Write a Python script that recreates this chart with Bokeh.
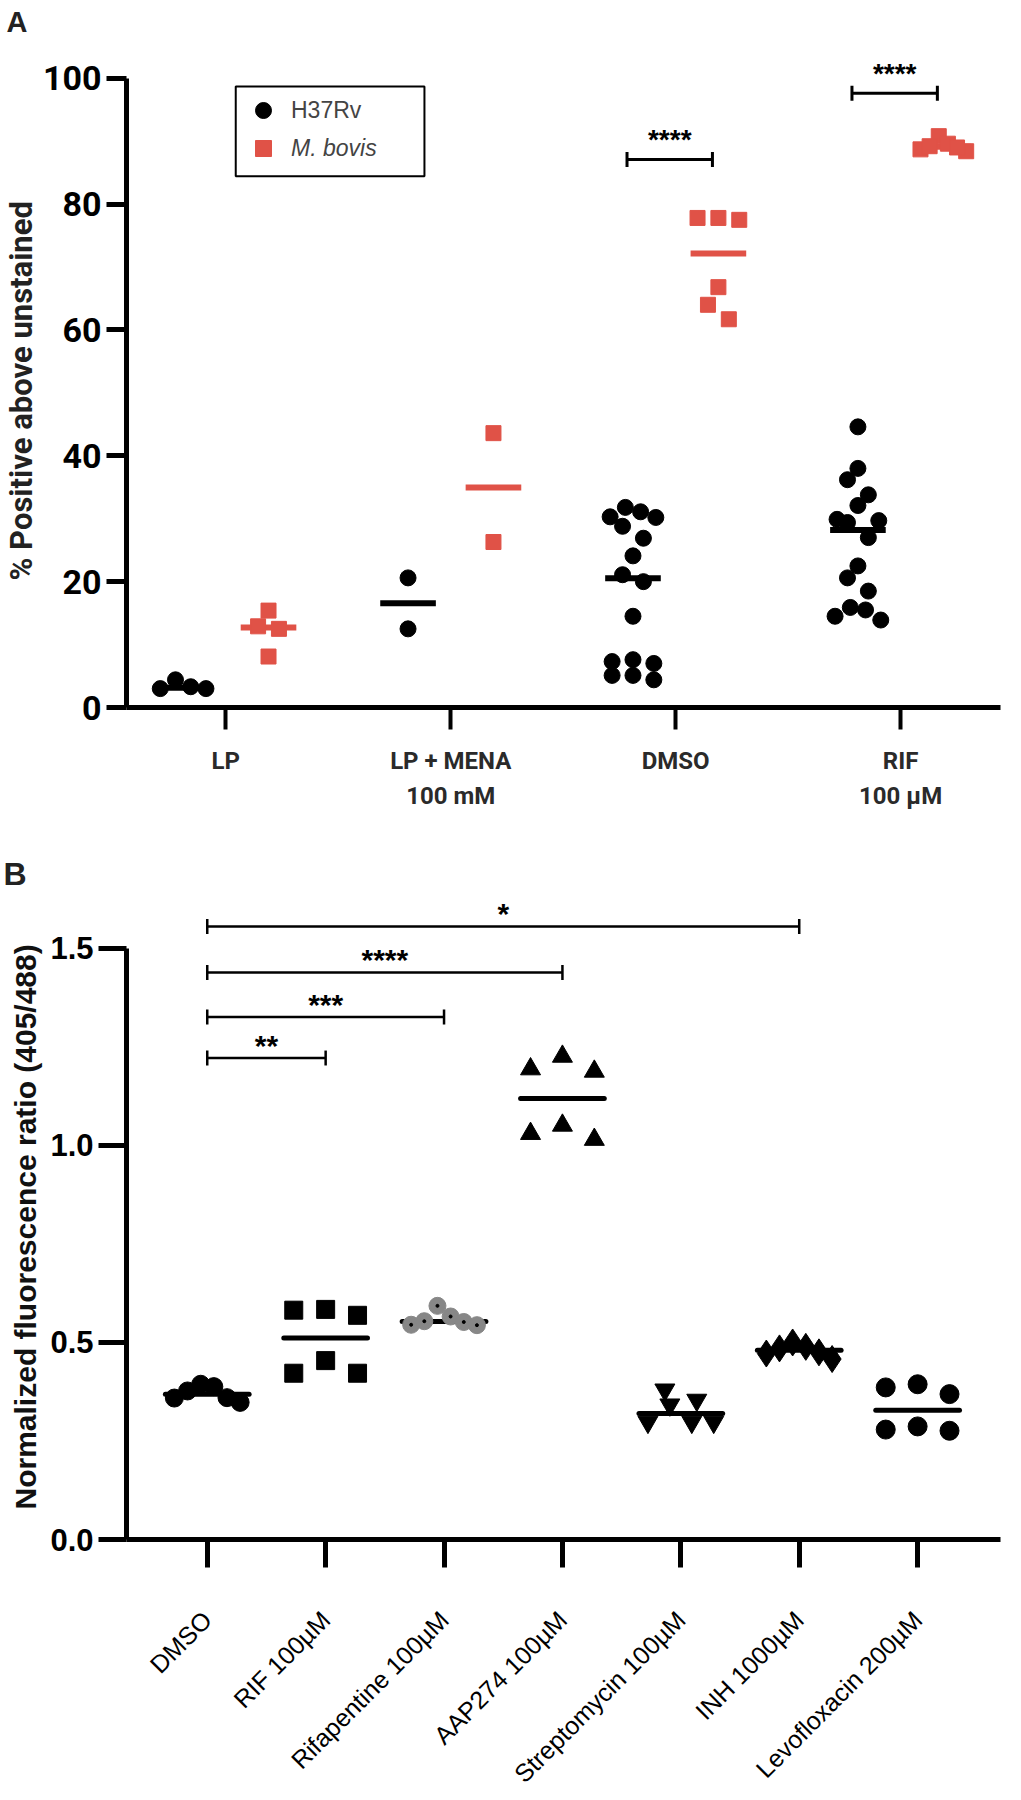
import numpy as np
from bokeh.plotting import figure
from bokeh.models import (FixedTicker, Legend, LegendItem, BoxAnnotation,
                          Range1d, ColumnDataSource, Title)
from bokeh.layouts import column
from bokeh.core.properties import value
from bokeh.embed import file_html
from bokeh.resources import INLINE

# ---------------- Panel A data ----------------
A_CATEGORIES = ["LP", "LP + MENA\n100 mM", "DMSO", "RIF\n100 µM"]
A_SERIES = ["H37Rv", "M. bovis"]
A_Y_LABEL = "% Positive above unstained"
H37RV_LP = [3.0, 4.4, 3.0, 3.3]
H37RV_LP_MENA = [20.6, 12.5]
H37RV_DMSO = [30.2, 31.1, 31.8, 30.3, 28.8, 26.9, 24.1, 20.0, 21.1, 14.5,
              7.3, 5.1, 5.1, 7.0, 7.6, 4.4]
H37RV_RIF = [44.6, 38.0, 36.2, 33.8, 32.1, 29.9, 29.7, 29.4, 27.0, 22.5,
             20.6, 18.5, 15.9, 15.5, 14.5, 13.9]
BOVIS_LP = [15.4, 12.5, 12.9, 8.1]
BOVIS_LP_MENA = [43.6, 26.3]
BOVIS_DMSO = [77.5, 77.8, 77.8, 66.8, 64.0, 61.7]
BOVIS_RIF = [88.7, 90.8, 89.6, 88.4, 89.2, 89.0]
A_SIG_CATEGORY = [2, 3]
A_SIG_TEXT = ["****", "****"]
A_SIG_Y = [87.1, 97.6]
A_Y_TICKS = [0, 20, 40, 60, 80, 100]

# ---------------- Panel B data ----------------
B_CATEGORIES = ["DMSO", "RIF 100µM", "Rifapentine 100µM", "AAP274 100µM",
                "Streptomycin 100µM", "INH 1000µM", "Levofloxacin 200µM"]
B_Y_LABEL = "Normalized fluorescence  ratio (405/488)"
B_DMSO = [0.360, 0.388, 0.359, 0.377, 0.394, 0.348]
B_RIF = [0.582, 0.569, 0.584, 0.422, 0.454, 0.422]
B_RIFAPENTINE = [0.545, 0.566, 0.593, 0.552, 0.554, 0.544]
B_AAP274 = [1.226, 1.188, 1.194, 1.015, 1.051, 1.030]
B_STREPTOMYCIN = [0.354, 0.342, 0.380, 0.298, 0.298, 0.298]
B_INH = [0.472, 0.500, 0.475, 0.489, 0.458, 0.485]
B_LEVOFLOXACIN = [0.394, 0.369, 0.386, 0.276, 0.287, 0.279]
B_SIG_FROM = [0, 0, 0, 0]
B_SIG_TO = [1, 2, 3, 5]
B_SIG_TEXT = ["**", "***", "****", "*"]
B_SIG_Y = [1.222, 1.326, 1.439, 1.556]
B_Y_TICKS = [0.0, 0.5, 1.0, 1.5]

# ---------------- styles ----------------
RED = "#E05247"
GRAY = "#878787"
COND = "Roboto"
SANS = "Liberation Sans"


def swarm(vals, y_px, bin_px, max_sp, max_w):
    """GraphPad-like scatter: group close values into rows, spread them sideways (px)."""
    vals = np.asarray(vals, float)
    order = np.argsort(vals, kind="stable")
    rows, cur, start = [], [], None
    for i in order:
        if cur and (vals[i] - start) * y_px > bin_px:
            rows.append(cur)
            cur = []
        if not cur:
            start = vals[i]
        cur.append(i)
    rows.append(cur)
    off = np.zeros(len(vals))
    for row in rows:
        n = len(row)
        if n < 2:
            continue
        sp = min(max_sp, max_w / (n - 1))
        slots = sorted(range(n), key=lambda k: (abs(k - (n - 1) / 2), k))
        row_desc = sorted(row, key=lambda i: -vals[i])
        for k, i in zip(slots, row_desc):
            off[i] = (k - (n - 1) / 2) * sp
    return off


def style_axes(p):
    p.xgrid.visible = False
    p.ygrid.visible = False
    p.outline_line_color = None
    for ax in (p.xaxis[0], p.yaxis[0]):
        ax.minor_tick_line_color = None
        ax.major_tick_in = 0
        ax.axis_line_color = "black"
        ax.major_tick_line_color = "black"


# ======================= Panel A =======================
A_W, A_H = 1021, 843
A_ML, A_MR, A_MT, A_MB = 120, 21, 39, 136
AX0, AX1 = -0.4415, 3.444
AY0, AY1 = 0, 106
a_xpx = (A_W - A_ML - A_MR) / (AX1 - AX0)
a_ypx = (A_H - A_MT - A_MB) / (AY1 - AY0)

pA = figure(width=A_W, height=A_H, x_range=Range1d(AX0, AX1), y_range=Range1d(AY0, AY1),
            output_backend="svg", toolbar_location=None,
            min_border_left=A_ML, min_border_right=A_MR, min_border_top=A_MT,
            min_border_bottom=A_MB, title="A")
style_axes(pA)
pA.title.align = "left"
pA.title.offset = -A_ML
pA.title.standoff = 6
pA.title.text_font = SANS
pA.title.text_font_style = "bold"
pA.title.text_font_size = "29px"
pA.title.text_color = "#222222"

h37 = [H37RV_LP, H37RV_LP_MENA, H37RV_DMSO, H37RV_RIF]
bov = [BOVIS_LP, BOVIS_LP_MENA, BOVIS_DMSO, BOVIS_RIF]
grp_off = 43 / a_xpx
half_med = 28 / a_xpx

series_src = []
for vals_list, sign, color in ((h37, -1, "black"), (bov, 1, RED)):
    xs, ys, mx0, mx1, my = [], [], [], [], []
    for ci, vals in enumerate(vals_list):
        c = ci + sign * grp_off
        off = swarm(vals, a_ypx, 16, 21, 46)
        xs += list(c + off / a_xpx)
        ys += list(vals)
        med = float(np.median(vals))
        mx0.append(c - half_med)
        mx1.append(c + half_med)
        my.append(med)
    pA.segment(x0=mx0, x1=mx1, y0=my, y1=my, line_color=color, line_width=6)
    series_src.append(ColumnDataSource(dict(x=xs, y=ys)))

r_h = pA.scatter("x", "y", source=series_src[0], marker="circle", size=16,
                 fill_color="black", line_color="black")
r_b = pA.scatter("x", "y", source=series_src[1], marker="square", size=15,
                 fill_color=RED, line_color=RED)

# significance brackets A
tick_h = 7.5 / a_ypx
for c, t, y in zip(A_SIG_CATEGORY, A_SIG_TEXT, A_SIG_Y):
    x0, x1 = c - grp_off - 6 / a_xpx, c + grp_off - 6 / a_xpx
    pA.segment(x0=[x0, x0, x1], x1=[x1, x0, x1], y0=[y, y - tick_h, y - tick_h],
               y1=[y, y + tick_h, y + tick_h], line_color="black", line_width=3)
    pA.text(x=[(x0 + x1) / 2], y=[y + 20 / a_ypx], text=[t], text_align="center",
            text_baseline="middle", text_font=value(SANS),
            text_font_style="bold", text_font_size="28px", text_color="black")

# axes A
pA.yaxis.ticker = FixedTicker(ticks=A_Y_TICKS)
pA.yaxis.bounds = (0, 100)
pA.yaxis.axis_line_width = 5
pA.yaxis.major_tick_line_width = 5
pA.yaxis.major_tick_out = 20
pA.yaxis.major_label_standoff = 5
pA.yaxis.major_label_text_font = COND
pA.yaxis.major_label_text_font_style = "bold"
pA.yaxis.major_label_text_font_size = "34px"
pA.yaxis.major_label_text_color = "black"
pA.add_layout(Title(text=A_Y_LABEL, align="left", offset=127, standoff=0,
                    text_font=COND, text_font_style="bold", text_font_size="31px",
                    text_color="#222222"), "left")

pA.xaxis.ticker = FixedTicker(ticks=list(range(len(A_CATEGORIES))))
pA.xaxis.major_label_overrides = {i: s for i, s in enumerate(A_CATEGORIES)}
pA.xaxis.axis_line_width = 5
pA.xaxis.major_tick_line_width = 4
pA.xaxis.major_tick_out = 22
pA.xaxis.major_label_standoff = 17
pA.xaxis.major_label_text_font = COND
pA.xaxis.major_label_text_font_style = "bold"
pA.xaxis.major_label_text_font_size = "24px"
pA.xaxis.major_label_text_line_height = 1.25
pA.xaxis.major_label_text_color = "#2a2a2a"

# legend A
leg_common = dict(padding=0, margin=0, spacing=0, glyph_width=40, glyph_height=40,
                  label_height=40, label_standoff=8, label_text_font=SANS,
                  label_text_font_size="23px", border_line_alpha=0,
                  background_fill_alpha=0)
leg1 = Legend(items=[LegendItem(label=A_SERIES[0], renderers=[r_h])],
              location=(117, 577), **leg_common)
leg2 = Legend(items=[LegendItem(label=A_SERIES[1], renderers=[r_b])],
              location=(117, 539), label_text_font_style="italic", **leg_common)
pA.add_layout(leg1)
pA.add_layout(leg2)
pA.add_layout(BoxAnnotation(left=(230 - 220) / a_xpx, right=(420 - 220) / a_xpx,
                            top=(707 - 85) / a_ypx, bottom=(707 - 175) / a_ypx,
                            fill_alpha=0, line_color="black", line_alpha=1,
                            line_width=2))

# ======================= Panel B =======================
B_W, B_H = 1021, 957
B_ML, B_MR, B_MT, B_MB = 123, 21, 38, 258
BX0, BX1 = -0.682, 6.70
BY0, BY1 = 0, 1.67
b_xpx = (B_W - B_ML - B_MR) / (BX1 - BX0)
b_ypx = (B_H - B_MT - B_MB) / (BY1 - BY0)

pB = figure(width=B_W, height=B_H, x_range=Range1d(BX0, BX1), y_range=Range1d(BY0, BY1),
            output_backend="svg", toolbar_location=None,
            min_border_left=B_ML, min_border_right=B_MR, min_border_top=B_MT,
            min_border_bottom=B_MB, title="B")
style_axes(pB)
pB.title.align = "left"
pB.title.offset = -B_ML
pB.title.vertical_align = "bottom"
pB.title.standoff = -21
pB.title.text_font = SANS
pB.title.text_font_style = "bold"
pB.title.text_font_size = "32px"
pB.title.text_color = "#222222"

b_vals = [B_DMSO, B_RIF, B_RIFAPENTINE, B_AAP274, B_STREPTOMYCIN, B_INH, B_LEVOFLOXACIN]
b_markers = ["circle", "square", "circle", "triangle", "inverted_triangle", "diamond", "circle"]
b_sizes = [18, 18, 17, 20, 20, 27, 19]
b_fill = ["black", "black", GRAY, "black", "black", "black", "black"]
half_med_b = 42 / b_xpx

mx0, mx1, my = [], [], []
for ci, vals in enumerate(b_vals):
    med = float(np.median(vals))
    mx0.append(ci - half_med_b)
    mx1.append(ci + half_med_b)
    my.append(med)
pB.segment(x0=mx0, x1=mx1, y0=my, y1=my, line_color="black", line_width=5,
           line_cap="round")

for ci, vals in enumerate(b_vals):
    off = swarm(vals, b_ypx, 20, 32, 66)
    src = ColumnDataSource(dict(x=ci + off / b_xpx, y=vals))
    pB.scatter("x", "y", source=src, marker=b_markers[ci], size=b_sizes[ci],
               fill_color=b_fill[ci], line_color=b_fill[ci])
    if b_fill[ci] == GRAY:
        pB.scatter("x", "y", source=src, marker="circle", size=3,
                   fill_color="black", line_color="black")

tick_hb = 7.5 / b_ypx
for i0, i1, t, y in zip(B_SIG_FROM, B_SIG_TO, B_SIG_TEXT, B_SIG_Y):
    pB.segment(x0=[i0, i0, i1], x1=[i1, i0, i1], y0=[y, y - tick_hb, y - tick_hb],
               y1=[y, y + tick_hb, y + tick_hb], line_color="black", line_width=2.5)
    pB.text(x=[(i0 + i1) / 2], y=[y + 13 / b_ypx], text=[t], text_align="center",
            text_baseline="middle", text_font=value(SANS),
            text_font_style="bold", text_font_size="30px", text_color="black")

pB.yaxis.ticker = FixedTicker(ticks=B_Y_TICKS)
pB.yaxis.major_label_overrides = {t: f"{t:.1f}" for t in B_Y_TICKS}
pB.yaxis.bounds = (0, 1.5)
pB.yaxis.axis_line_width = 5
pB.yaxis.major_tick_line_width = 5
pB.yaxis.major_tick_out = 28
pB.yaxis.major_label_standoff = 5
pB.yaxis.major_label_text_font = SANS
pB.yaxis.major_label_text_font_style = "bold"
pB.yaxis.major_label_text_font_size = "31px"
pB.yaxis.major_label_text_color = "black"
pB.add_layout(Title(text=B_Y_LABEL, align="left", offset=30, standoff=11,
                    text_font=SANS, text_font_style="bold", text_font_size="30px",
                    text_color="#111111"), "left")

pB.xaxis.ticker = FixedTicker(ticks=list(range(len(B_CATEGORIES))))
pB.xaxis.major_label_overrides = {i: s for i, s in enumerate(B_CATEGORIES)}
pB.xaxis.major_label_orientation = np.pi / 4
pB.xaxis.axis_line_width = 5
pB.xaxis.major_tick_line_width = 5
pB.xaxis.major_tick_out = 28
pB.xaxis.major_label_standoff = 48
pB.xaxis.major_label_text_font = SANS
pB.xaxis.major_label_text_font_style = "normal"
pB.xaxis.major_label_text_font_size = "25px"
pB.xaxis.major_label_text_color = "black"

layout = column(pA, pB, spacing=0)
open("out.html", "w").write(file_html(layout, INLINE))
